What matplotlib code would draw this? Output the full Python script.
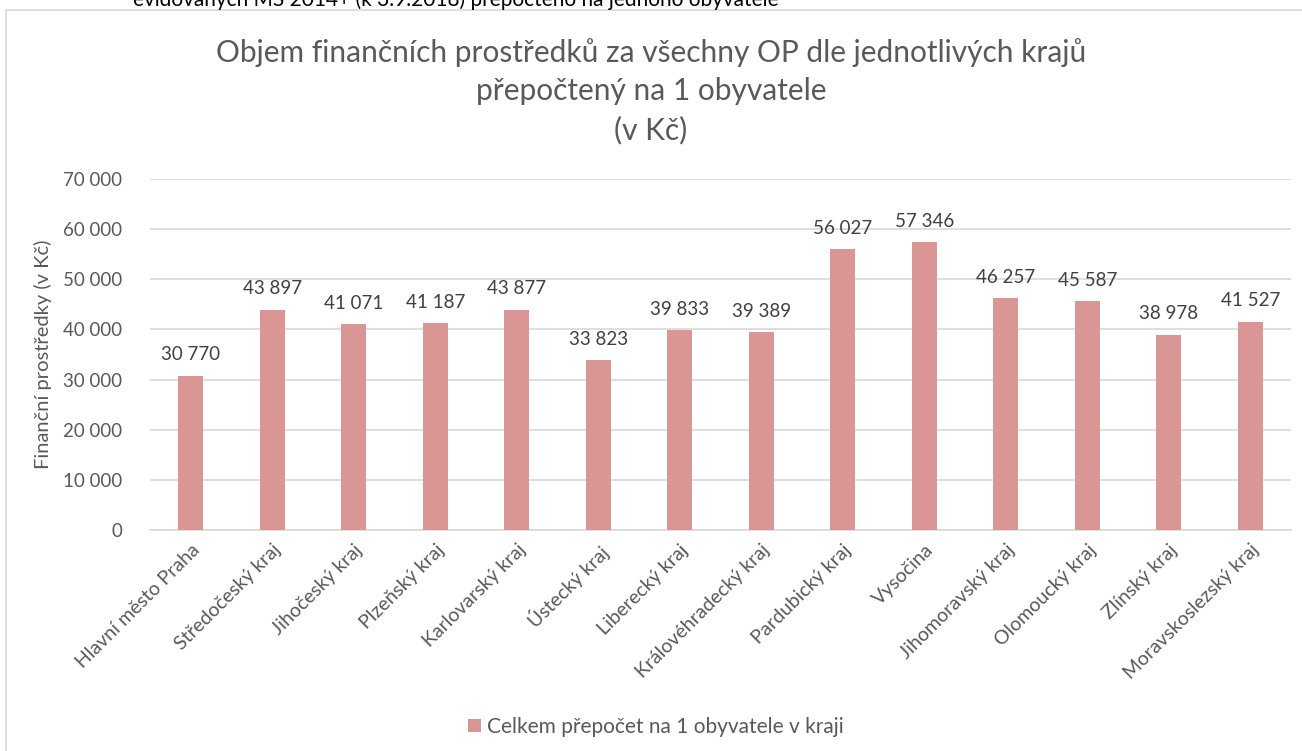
import matplotlib.pyplot as plt
import matplotlib.ticker as mticker
from matplotlib.patches import Rectangle

plt.rcParams['font.family'] = ['Lato', 'DejaVu Sans']

###########################################################################
# data
kraje = ['Hlavní město Praha', 'Středočeský kraj', 'Jihočeský kraj', 'Plzeňský kraj',
         'Karlovarský kraj', 'Ústecký kraj', 'Liberecký kraj', 'Královéhradecký kraj',
         'Pardubický kraj', 'Vysočina', 'Jihomoravský kraj', 'Olomoucký kraj',
         'Zlínský kraj', 'Moravskoslezský kraj']
naObyvatele = [30770, 43897, 41071, 41187, 43877, 33823, 39833, 39389,
               56027, 57346, 46257, 45587, 38978, 41527]
yTicks = [0, 10000, 20000, 30000, 40000, 50000, 60000, 70000]

titleText = ('Objem finančních prostředků za všechny OP dle jednotlivých krajů\n'
             'přepočtený na 1 obyvatele\n(v Kč)')
yLabel = 'Finanční prostředky (v Kč)'
legendText = 'Celkem přepočet na 1 obyvatele v kraji'
topText = 'evidovaných MS 2014+ (k 3.9.2018) přepočteno na jednoho obyvatele'

def fmt(v):
    return '{:,.0f}'.format(v).replace(',', ' ')

###########################################################################
# plot
fig = plt.figure(figsize=(13.02, 7.51), dpi=100)
ax = fig.add_axes([150/1302, 1-530/751, (1291-150)/1302, (530-179)/751])

barCol = '#d99694'
bars = ax.bar(range(len(kraje)), naObyvatele, width=0.31, color=barCol,
              label=legendText, zorder=3)
for i, v in enumerate(naObyvatele):
    ax.text(i, v + 2500, fmt(v), ha='center', va='bottom', fontsize=13.5, color='#404040')

ax.set_xlim(-0.5, len(kraje) - 0.5)
ax.set_ylim(0, 70000)
ax.set_yticks(yTicks)
ax.yaxis.set_major_formatter(mticker.FuncFormatter(lambda v, p: fmt(v)))
ax.grid(axis='y', color='#d9d9d9', linewidth=1.2, zorder=0)
for s in ['top', 'right', 'left']:
    ax.spines[s].set_visible(False)
ax.spines['bottom'].set_color('#d9d9d9')
ax.spines['bottom'].set_linewidth(1.2)
ax.tick_params(axis='both', length=0, labelsize=13.5, colors='#595959')
ax.tick_params(axis='y', pad=20)
ax.set_xticks(range(len(kraje)))
ax.set_xticklabels(kraje, rotation=45, ha='right', rotation_mode='anchor', fontsize=14)
ax.tick_params(axis='x', pad=8)
ax.set_ylabel(yLabel, fontsize=14.5, color='#595959', labelpad=8)

fig.text(651/1302, 1-91/751, titleText, ha='center', va='center', fontsize=21.5,
         color='#595959', linespacing=1.45)
fig.text(133/1302, 1-0/751, topText, ha='left', va='center', fontsize=15, color='black')

fig.legend(handles=[bars], labels=[legendText], loc='center', bbox_to_anchor=(656/1302, 1-727/751),
           frameon=False, fontsize=15, labelcolor='#595959', handlelength=0.6,
           handleheight=0.6, handletextpad=0.3)

fig.patches.append(Rectangle((6/1302, -0.1), 1.2, 1-10/751 + 0.1, transform=fig.transFigure,
                             fill=False, edgecolor='#d9d9d9', linewidth=1.2))

fig.savefig('out.png', dpi=100)
